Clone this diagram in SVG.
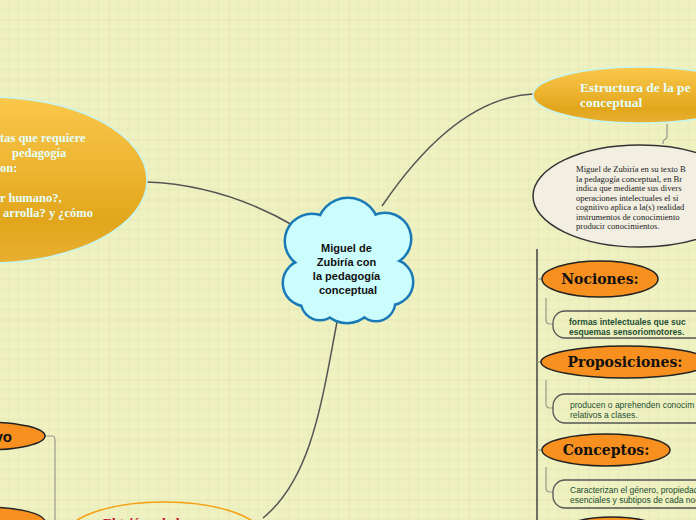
<svg xmlns="http://www.w3.org/2000/svg" width="696" height="520" viewBox="0 0 696 520">
<style>
.conn{fill:none;stroke:#555;stroke-width:1.5}
.thin{fill:none;stroke:#9a9a8a;stroke-width:1.2}
.gold{fill:url(#goldG);stroke:#c6f6f2;stroke-width:1.5}
.goldtxt{font-family:"Liberation Serif",serif;font-weight:bold;fill:#e4fffc}
.orange{fill:#f7901e;stroke:#222;stroke-width:1.5}
.lab{font-family:"DejaVu Serif",serif;font-weight:bold;font-size:14px;fill:#111;text-anchor:middle}
.box{fill:none;stroke:#555;stroke-width:1.3}
.boxtxt{font-family:"Liberation Sans",sans-serif;font-size:8.5px;fill:#1c4d33}
.desc{font-family:"Liberation Serif",serif;font-size:8.6px;fill:#222}
</style>
<defs>
<pattern id="grid" x="48.5" y="19.5" width="60" height="60" patternUnits="userSpaceOnUse">
<path d="M10 0V60M20 0V60M30 0V60M40 0V60M50 0V60M0 10H60M0 20H60M0 30H60M0 40H60M0 50H60" stroke="#e4e7b7" stroke-width="1" fill="none"/>
<path d="M0 0V60M0 0H60" stroke="#dcdfae" stroke-width="1" fill="none"/>
</pattern>
<linearGradient id="goldG" x1="0" y1="0" x2="0" y2="1">
<stop offset="0" stop-color="#fbc84c"/>
<stop offset="0.75" stop-color="#e2a61c"/>
<stop offset="1" stop-color="#e8b032"/>
</linearGradient>
</defs>
<rect width="696" height="520" fill="#eff2c0"/>
<rect width="696" height="520" fill="url(#grid)"/>

<g id="connectors">
<path class="conn" d="M147,182 C200,184 250,200 296,227"/>
<path class="conn" d="M382,206 C420,150 470,97 533,94"/>
<path class="conn" d="M337,322 C322,400 312,478 263,518"/>
<path class="thin" d="M667,124 V136 Q667,139 664,140 Q663,141 663,144"/>
<path d="M537,249 V520" stroke="#444" stroke-width="1.5" fill="none"/>
<path class="thin" d="M537,279 H542"/>
<path class="thin" d="M537,362 H542"/>
<path class="thin" d="M537,450 H542"/>
<path class="thin" d="M546,298 V320 Q546,324 550,324 H553"/>
<path class="thin" d="M546,380 V404 Q546,408 550,408 H553"/>
<path class="thin" d="M546,467 V488 Q546,492 550,492 H553"/>
<path class="thin" d="M45,436 H52 Q55,436 55,440 V520"/>
</g>

<g id="preguntas">
<ellipse class="gold" cx="-10" cy="180" rx="157" ry="83"/>
<text class="goldtxt" font-size="12.5">
<tspan x="0" y="142">tas que requiere</tspan>
<tspan x="12" y="157">pedagogía</tspan>
<tspan x="0" y="172">on:</tspan>
<tspan x="0" y="202">r humano?,</tspan>
<tspan x="3" y="217">arrolla? y ¿cómo</tspan>
</text>
</g>

<g id="estructura">
<ellipse class="gold" cx="640" cy="95" rx="107" ry="28"/>
<text class="goldtxt" font-size="13.5">
<tspan x="580" y="92">Estructura de la pe</tspan>
<tspan x="580" y="107">conceptual</tspan>
</text>
</g>

<g id="descripcion">
<ellipse cx="640" cy="196" rx="107" ry="51" fill="#f2efe2" stroke="#333" stroke-width="1.5"/>
<text class="desc">
<tspan x="576" y="172">Miguel de Zubiría en su texto B</tspan>
<tspan x="576" y="181.5">la pedagogía conceptual, en Br</tspan>
<tspan x="576" y="191">indica que mediante sus divers</tspan>
<tspan x="576" y="200.5">operaciones intelectuales el si</tspan>
<tspan x="576" y="210">cognitivo aplica a la(s) realidad</tspan>
<tspan x="576" y="219.5">instrumentos de conocimiento</tspan>
<tspan x="576" y="229">producir conocimientos.</tspan>
</text>
</g>

<g id="nociones">
<ellipse class="orange" cx="600" cy="279" rx="58" ry="18"/>
<text class="lab" x="600" y="284">Nociones:</text>
</g>
<g id="nociones-texto">
<rect class="box" x="553" y="311" width="170" height="27" rx="12"/>
<text class="boxtxt" font-weight="bold" font-size="8.2">
<tspan x="569" y="325">formas intelectuales que suc</tspan>
<tspan x="569" y="334.5">esquemas sensoriomotores.</tspan>
</text>
</g>

<g id="proposiciones">
<ellipse class="orange" cx="625" cy="362" rx="84" ry="16"/>
<text class="lab" x="625" y="367">Proposiciones:</text>
</g>
<g id="proposiciones-texto">
<rect class="box" x="553" y="394" width="170" height="29" rx="12"/>
<text class="boxtxt">
<tspan x="570" y="408">producen o aprehenden conocim</tspan>
<tspan x="570" y="418">relativos a clases.</tspan>
</text>
</g>

<g id="conceptos">
<ellipse class="orange" cx="606" cy="450" rx="64" ry="16"/>
<text class="lab" x="606" y="455">Conceptos:</text>
</g>
<g id="conceptos-texto">
<rect class="box" x="553" y="480" width="170" height="28" rx="12"/>
<text class="boxtxt">
<tspan x="570" y="493">Caracterizan el género, propiedad</tspan>
<tspan x="570" y="503">esenciales y subtipos de cada noc</tspan>
</text>
</g>

<g id="nodo-inferior-derecha">
<ellipse class="orange" cx="612" cy="536" rx="56" ry="19"/>
</g>

<g id="nodo-vo">
<ellipse class="orange" cx="-15" cy="436" rx="60" ry="14"/>
<text x="12" y="442" font-family="Liberation Sans,sans-serif" font-weight="bold" font-size="15" fill="#111" text-anchor="end">vo</text>
</g>

<g id="nodo-inferior-izquierda">
<ellipse class="orange" cx="-15" cy="522" rx="60" ry="15"/>
</g>

<g id="triangulo">
<ellipse cx="164" cy="536" rx="98" ry="34" fill="none" stroke="#f5a012" stroke-width="1.5"/>
<text x="103" y="527" font-family="Liberation Serif,serif" font-weight="bold" font-size="13.5" fill="#c8102e">El triángulo humano</text>
</g>

<g id="centro">
<g fill="#1a7ab8">
<circle cx="348" cy="229" r="32.5"/>
<circle cx="312" cy="241" r="28.5"/>
<circle cx="385" cy="239" r="27.5"/>
<circle cx="306" cy="283" r="24.5"/>
<circle cx="390" cy="282" r="24.5"/>
<circle cx="347" cy="294" r="30.5"/>
<circle cx="320" cy="301" r="20.5"/>
<circle cx="376" cy="302" r="20.5"/>
</g>
<g fill="#ccfdfd">
<circle cx="348" cy="229" r="30"/>
<circle cx="312" cy="241" r="26"/>
<circle cx="385" cy="239" r="25"/>
<circle cx="306" cy="283" r="22"/>
<circle cx="390" cy="282" r="22"/>
<circle cx="347" cy="294" r="28"/>
<circle cx="320" cy="301" r="18"/>
<circle cx="376" cy="302" r="18"/>
<circle cx="348" cy="263" r="42"/>
</g>
<text font-family="Liberation Sans,sans-serif" font-weight="bold" font-size="11" fill="#111" text-anchor="middle">
<tspan x="348" y="252">Miguel de</tspan>
<tspan x="348" y="266">Zubiría con</tspan>
<tspan x="348" y="280">la pedagogía</tspan>
<tspan x="348" y="294">conceptual</tspan>
</text>
</g>
</svg>
